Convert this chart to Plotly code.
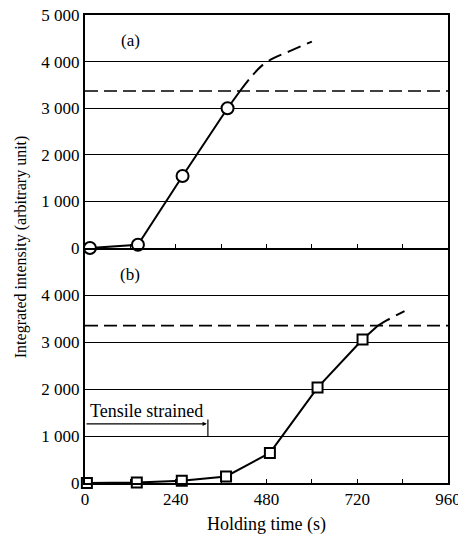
import plotly.graph_objects as go

# Panel (a): circles
a_time = [13, 140, 258, 377]
a_int = [0, 70, 1545, 3000]
a_solid_ext_x = [377, 410]
a_solid_ext_y = [3000, 3370]
a_dash_x = [410, 440, 470, 500, 540, 600]
a_dash_y = [3370, 3680, 3930, 4080, 4220, 4430]

# Panel (b): squares
b_time = [5, 137, 256, 373, 489, 615, 734]
b_int = [0, 10, 50, 140, 640, 2030, 3055]
b_solid_ext_x = [734, 775]
b_solid_ext_y = [3055, 3350]
b_dash_x = [775, 800, 845]
b_dash_y = [3350, 3470, 3660]

sat_a = 3370
sat_b = 3350
strain_end = 325

x_ticks = [0, 240, 480, 720, 960]
x_ticktext = ["0", "240", "480", "720", "960"]
ya_ticks = [0, 1000, 2000, 3000, 4000, 5000]
ya_text = ["0", "1 000", "2 000", "3 000", "4 000", "5 000"]
yb_ticks = [0, 1000, 2000, 3000, 4000]
yb_text = ["0", "1 000", "2 000", "3 000", "4 000"]

FONT = "Liberation Serif"
line = dict(color="black", width=2)

fig = go.Figure()
# top panel
fig.add_trace(go.Scatter(x=[0, 960], y=[sat_a, sat_a], mode="lines", xaxis="x2", yaxis="y2",
                         line=dict(color="black", width=1.6, dash="13px,6px"), showlegend=False))
fig.add_trace(go.Scatter(x=a_solid_ext_x, y=a_solid_ext_y, mode="lines", xaxis="x2", yaxis="y2",
                         line=line, showlegend=False))
fig.add_trace(go.Scatter(x=a_dash_x, y=a_dash_y, mode="lines", xaxis="x2", yaxis="y2",
                         line=dict(color="black", width=2, dash="14px,7px"), line_shape="spline",
                         showlegend=False))
fig.add_trace(go.Scatter(x=a_time, y=a_int, mode="lines+markers", xaxis="x2", yaxis="y2",
                         line=line, marker=dict(symbol="circle", size=12, color="white",
                                                line=dict(color="black", width=2)),
                         showlegend=False, cliponaxis=False))
# bottom panel
fig.add_trace(go.Scatter(x=[0, 960], y=[sat_b, sat_b], mode="lines", xaxis="x", yaxis="y",
                         line=dict(color="black", width=1.6, dash="13px,6px"), showlegend=False))
fig.add_trace(go.Scatter(x=b_solid_ext_x, y=b_solid_ext_y, mode="lines", xaxis="x", yaxis="y",
                         line=line, showlegend=False))
fig.add_trace(go.Scatter(x=b_dash_x, y=b_dash_y, mode="lines", xaxis="x", yaxis="y",
                         line=dict(color="black", width=2, dash="14px,7px"), line_shape="spline",
                         showlegend=False))
fig.add_trace(go.Scatter(x=b_time, y=b_int, mode="lines+markers", xaxis="x", yaxis="y",
                         line=line, marker=dict(symbol="square", size=10, color="white",
                                                line=dict(color="black", width=2)),
                         showlegend=False, cliponaxis=False))

xcommon = dict(range=[0, 960], ticks="inside", ticklen=4, tickcolor="black", tickwidth=1,
               tickvals=x_ticks, showgrid=False, zeroline=False, automargin=False,
               showline=True, linecolor="black", linewidth=2,
               minor=dict(dtick=120, tick0=0, ticks="inside", ticklen=4, tickcolor="black",
                          tickwidth=1, showgrid=False))
ycommon = dict(range=[0, 5000], showgrid=True, gridcolor="black", gridwidth=1.4, ticks="",
               zeroline=False, automargin=False, showline=True, linecolor="black", linewidth=2,
               mirror=True, tickfont=dict(size=17))

fig.update_layout(
    width=458, height=535,
    margin=dict(l=85, r=10, t=15, b=52),
    paper_bgcolor="white", plot_bgcolor="white",
    font=dict(family=FONT, size=16, color="black"),
    xaxis=dict(anchor="y", ticktext=x_ticktext, tickfont=dict(size=17), mirror=False,
               ticklabeloverflow="allow",
               title=dict(text="Holding time (s)", font=dict(size=18), standoff=14), **xcommon),
    xaxis2=dict(anchor="y2", matches="x", showticklabels=False, mirror=True, **xcommon),
    yaxis=dict(domain=[0, 0.502], tickvals=yb_ticks, ticktext=yb_text, **ycommon),
    yaxis2=dict(domain=[0.502, 1], tickvals=ya_ticks, ticktext=ya_text, **ycommon),
)

fig.add_annotation(x=119, y=4460, xref="x2", yref="y2", text="(a)", showarrow=False, font=dict(size=17))
fig.add_annotation(x=119, y=4440, xref="x", yref="y", text="(b)", showarrow=False, font=dict(size=17))
fig.add_annotation(x=8, y=1280, xref="x", yref="y", text="Tensile strained", showarrow=False,
                   xanchor="left", yanchor="bottom", font=dict(size=18))
fig.add_annotation(x=strain_end - 3, y=1260, ax=0, ay=1260, xref="x", yref="y", axref="x", ayref="y",
                   text="", showarrow=True, arrowhead=2, arrowsize=0.7, arrowwidth=1.2, arrowcolor="black")
fig.add_shape(type="line", xref="x", yref="y", x0=strain_end, x1=strain_end, y0=1000, y1=1350,
              line=dict(color="black", width=1.2))

fig.add_annotation(x=-0.176, y=0.504, xref="paper", yref="paper", text="Integrated intensity (arbitrary unit)",
                   textangle=-90, showarrow=False, font=dict(size=16), xanchor="center", yanchor="middle")

fig.write_html("out.html", config={"displayModeBar": False},
               post_script="document.body.style.margin='0';document.body.style.padding='0';")
